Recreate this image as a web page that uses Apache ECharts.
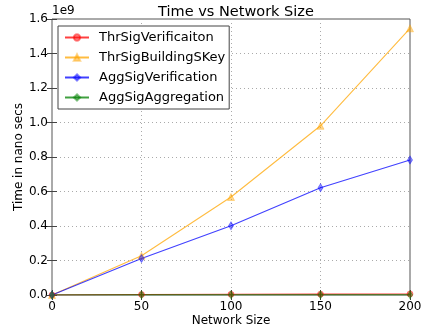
<!DOCTYPE html>
<html>
<head>
<meta charset="utf-8">
<script src="https://cdn.jsdelivr.net/npm/echarts@6/dist/echarts.min.js"></script>
<style>html,body{margin:0;padding:0;background:#fff;}#c{width:421px;height:329px;}</style>
</head>
<body>
<div id="c"></div>
<script>
const networkSizes = [0, 50, 100, 150, 200];
const thrSigVerification = [0, 3e6, 4e6, 5e6, 6e6];
const thrSigBuildingSKey = [0, 0.228e9, 0.568e9, 0.981e9, 1.546e9];
const aggSigVerification = [0, 0.212e9, 0.401e9, 0.622e9, 0.783e9];
const aggSigAggregation = [0, 1e6, 1e6, 1e6, 1e6];
const xTicks = [0, 50, 100, 150, 200];
const yTicks = [0, 0.2e9, 0.4e9, 0.6e9, 0.8e9, 1.0e9, 1.2e9, 1.4e9, 1.6e9];

const font = 'DejaVu Sans';
const pair = arr => networkSizes.map((x, i) => [x, arr[i]]);
function mk(name, data, color, symbol, size) {
  return {
    name, type: 'line', data: pair(data), symbol, symbolSize: size,
    lineStyle: { color, width: 1.1, opacity: 0.75 },
    itemStyle: { color, opacity: 0.45, borderColor: color, borderWidth: 0.8 },
    emphasis: { disabled: true }, animation: false, z: 3
  };
}
const chart = echarts.init(document.getElementById('c'), null, { renderer: 'canvas' });
chart.setOption({
  animation: false,
  backgroundColor: '#fff',
  textStyle: { fontFamily: font },
  title: {
    text: 'Time vs Network Size', left: 231, top: 0, textAlign: 'center',
    textStyle: { fontFamily: font, fontSize: 14.5, fontWeight: 'normal', color: '#000' }
  },
  graphic: [{
    type: 'text', left: 52, top: 5,
    style: { text: '1e9', fontFamily: font, fontSize: 12, fill: '#000' }
  }],
  legend: {
    left: 58, top: 26, orient: 'vertical',
    padding: [5, 4, 5, 6], itemGap: 7, itemWidth: 24, itemHeight: 8,
    borderColor: '#444', borderWidth: 1, backgroundColor: '#fff',
    textStyle: { fontFamily: font, fontSize: 13, color: '#000', padding: [0, 0, 0, 5] },
    data: ['ThrSigVerificaiton', 'ThrSigBuildingSKey', 'AggSigVerification', 'AggSigAggregation']
  },
  grid: { left: 52, right: 11, top: 19, bottom: 34, show: true, borderColor: '#555', borderWidth: 1,
    containLabel: false, outerBoundsMode: 'none' },
  xAxis: [{
    type: 'value', min: 0, max: 200, interval: 50,
    name: 'Network Size', nameLocation: 'middle', nameGap: 20, nameMoveOverlap: false,
    nameTextStyle: { fontFamily: font, fontSize: 12, color: '#000' },
    axisLine: { show: false },
    axisTick: { show: true, inside: true, length: 5, lineStyle: { color: '#444' } },
    axisLabel: { fontFamily: font, fontSize: 12, color: '#000', margin: 6, formatter: v => xTicks.includes(v) ? String(v) : '' },
    splitLine: { show: true, lineStyle: { color: '#aaa', type: [1, 3], width: 1 } }
  }, {
    type: 'value', min: 0, max: 200, interval: 50, position: 'top',
    axisLine: { show: false }, axisLabel: { show: false },
    axisTick: { show: true, inside: true, length: 5, lineStyle: { color: '#444' } },
    splitLine: { show: false }
  }],
  yAxis: [{
    type: 'value', min: 0, max: 1.6e9, interval: 0.2e9,
    name: 'Time in nano secs', nameLocation: 'middle', nameGap: 27, nameMoveOverlap: false,
    nameTextStyle: { fontFamily: font, fontSize: 12, color: '#000' },
    axisLine: { show: false },
    axisTick: { show: true, inside: true, length: 5, lineStyle: { color: '#444' } },
    axisLabel: { fontFamily: font, fontSize: 12, color: '#000', margin: 4,
      formatter: v => { const t = yTicks.find(y => Math.abs(y - v) < 1); return t === undefined ? '' : (t / 1e9).toFixed(1); } },
    splitLine: { show: true, lineStyle: { color: '#aaa', type: [1, 3], width: 1 } }
  }, {
    type: 'value', min: 0, max: 1.6e9, interval: 0.2e9, position: 'right',
    axisLine: { show: false }, axisLabel: { show: false },
    axisTick: { show: true, inside: true, length: 5, lineStyle: { color: '#444' } },
    splitLine: { show: false }
  }],
  series: [
    mk('ThrSigVerificaiton', thrSigVerification, '#ff0000', 'circle', 6),
    mk('ThrSigBuildingSKey', thrSigBuildingSKey, '#ffa500', 'triangle', 7),
    mk('AggSigVerification', aggSigVerification, '#0000ff', 'diamond', [5, 8]),
    mk('AggSigAggregation', aggSigAggregation, '#008000', 'diamond', [5, 8])
  ]
});
</script>
</body>
</html>
